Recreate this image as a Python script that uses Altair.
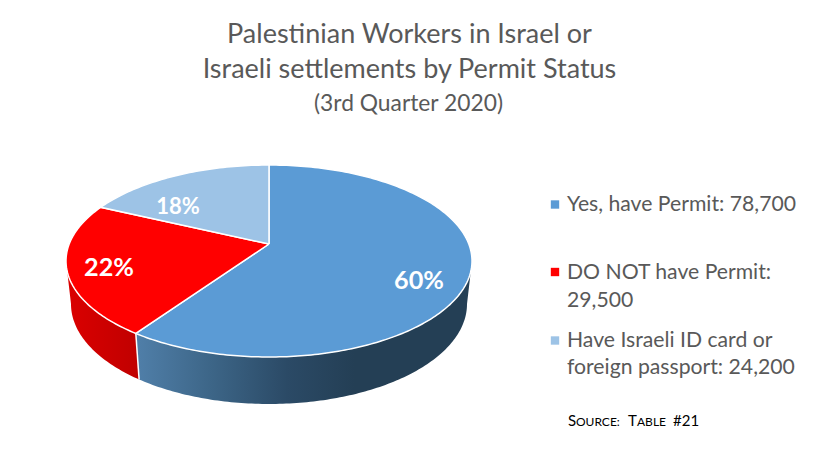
import math
import altair as alt
import pandas as pd

categories = ["Yes, have Permit", "DO NOT have Permit", "Have Israeli ID card or foreign passport"]
workers = [78700, 29500, 24200]
share_labels = ["60%", "22%", "18%"]
# sweep of each slice as it appears on the tilted pie, in degrees, clockwise from 12 o'clock
apparent_sweep = [221, 83, 56]
top_colors = ["#5B9BD5", "#FF0000", "#9DC3E6"]

title_lines = ["Palestinian Workers in Israel or", "Israeli settlements by Permit Status"]
subtitle = "(3rd Quarter 2020)"

W, H, M = 802, 436, 8
X = alt.X("x:Q", scale=alt.Scale(domain=[M, M + W], nice=False, zero=False), axis=None)
Y = alt.Y("y:Q", scale=alt.Scale(domain=[M + H, M], nice=False, zero=False), axis=None)

CX, TOP_CY, TOP_RX, TOP_RY = 269, 261, 203, 96
BOT_CY, BOT_RX, BOT_RY = 304, 198, 100
APEX = (269, 244)


def rim(deg, cy, rx, ry):
    t = math.radians(deg)
    return (CX + rx * math.sin(t), cy - ry * math.cos(t))


def frame(points):
    return pd.DataFrame([{"x": p[0], "y": p[1], "i": i} for i, p in enumerate(points)])


def polygon(points, fill, stroke=None, sw=0):
    kw = dict(fill=fill, strokeWidth=sw, interpolate="linear")
    kw["stroke"] = stroke if stroke else "transparent"
    return alt.Chart(frame(points)).mark_line(**kw).encode(x=X, y=Y, order="i:Q")


def wall(a, b, fill):
    a0, b0 = int(a), int(b)
    up = [rim(d, TOP_CY, TOP_RX, TOP_RY) for d in range(a0, b0 + 1)]
    down = [rim(d, BOT_CY, BOT_RX, BOT_RY) for d in range(b0, a0 - 1, -1)]
    return polygon(up + down + up[:1], fill)


def grad(stops):
    return alt.LinearGradient(
        gradient="linear", x1=0, y1=0, x2=1, y2=0,
        stops=[alt.GradientStop(offset=o, color=c) for o, c in stops],
    )


starts = [0]
for s in apparent_sweep:
    starts.append(starts[-1] + s)

blue_side = grad([(0, "#507FA9"), (0.22, "#3D6688"), (0.45, "#2B4A66"), (0.65, "#243F55"), (1, "#243F55")])
red_side = grad([(0, "#DB0000"), (1, "#C00000")])

layers = [
    wall(90, starts[1], blue_side),
    wall(starts[1], 270, red_side),
]

# white seam between the two walls
seam = [rim(starts[1], TOP_CY, TOP_RX, TOP_RY), rim(starts[1], BOT_CY, BOT_RX, BOT_RY)]
layers.append(alt.Chart(frame(seam)).mark_line(stroke="white", strokeWidth=1.5).encode(x=X, y=Y, order="i:Q"))

for i in range(3):
    arc = [rim(d, TOP_CY, TOP_RX, TOP_RY) for d in range(starts[i], starts[i + 1] + 1)]
    pts = [APEX] + arc + [APEX]
    layers.append(polygon(pts, top_colors[i], "white", 1.5))


def text(rows, size, color="#595959", weight="normal", align="left", font="Lato"):
    df = pd.DataFrame(rows, columns=["x", "y", "t"])
    return alt.Chart(df).mark_text(
        font=font, fontSize=size, color=color, fontWeight=weight, align=align, baseline="alphabetic"
    ).encode(x=X, y=Y, text="t:N")


layers.append(text([(409.5, 43, title_lines[0]), (409.5, 78, title_lines[1])], 27, align="center"))
layers.append(text([(408.5, 111, subtitle)], 22.8, align="center"))

layers.append(text([(419, 289, share_labels[0]), (109, 276, share_labels[1])], 25.2, "white", "bold", "center"))
layers.append(text([(178, 214, share_labels[2])], 22, "white", "bold", "center"))

legend_df = pd.DataFrame({"x": [555, 555, 555], "y": [204.5, 272, 340.5], "c": top_colors})
layers.append(
    alt.Chart(legend_df).mark_square(size=70, opacity=1).encode(x=X, y=Y, color=alt.Color("c:N", scale=None))
)

fmt = [f"{v:,}" for v in workers]
legend_rows = [
    (567, 211, f"{categories[0]}: {fmt[0]}"),
    (567, 279, f"{categories[1]}:"),
    (567, 307, fmt[1]),
    (567, 347, "Have Israeli ID card or"),
    (567, 374, f"foreign passport: {fmt[2]}"),
]
layers.append(text(legend_rows, 21.2))

layers.append(text([(568, 426, "S"), (628, 426, "T"), (673, 426, "#21")], 15, "#000000"))
layers.append(text([(576, 426, "OURCE:"), (637, 426, "ABLE")], 12, "#000000"))

chart = (
    alt.layer(*layers)
    .properties(width=W, height=H, padding=0, autosize=alt.AutoSizeParams(type="none"), background="white")
    .configure_view(stroke=None)
)
chart.save("out.html", embed_options={"renderer": "svg", "actions": False})
